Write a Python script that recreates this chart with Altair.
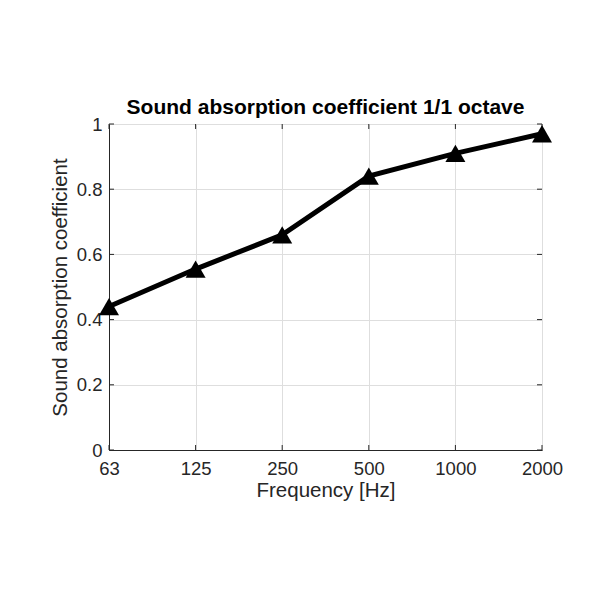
import altair as alt
import pandas as pd

# ---- data ----
freqs = ["63", "125", "250", "500", "1000", "2000"]
alpha = [0.44, 0.555, 0.66, 0.84, 0.91, 0.97]
y_ticks = [0, 0.2, 0.4, 0.6, 0.8, 1.0]

df = pd.DataFrame({"f": freqs, "a": alpha})
ydf = pd.DataFrame({"v": y_ticks})

FONT = "Liberation Sans"
TXT = "#262626"

xscale = alt.Scale(type="point", padding=0)
yscale = alt.Scale(domain=[0, 1], nice=False, zero=True)

x_enc = alt.X(
    "f:O", sort=freqs, scale=xscale,
    axis=alt.Axis(title="Frequency [Hz]", labelAngle=0, labelPadding=9,
                  labelAlign="center", labelBaseline="top",
                  labelFlush=False, labelOverlap=False,
                  titlePadding=3, grid=True, ticks=False),
)
y_enc = alt.Y(
    "a:Q", scale=yscale,
    axis=alt.Axis(title="Sound absorption coefficient", values=y_ticks,
                  format="~g", labelPadding=7, titlePadding=6,
                  labelFlush=False, labelOverlap=False,
                  grid=True, ticks=False),
)

line = alt.Chart(df).mark_line(color="black", strokeWidth=5).encode(x=x_enc, y=y_enc)
pts = alt.Chart(df).mark_point(
    shape="triangle-up", filled=True, size=400, color="black", opacity=1
).encode(x=alt.X("f:O", sort=freqs), y="a:Q")

# inward tick marks (MATLAB style)
xt_bottom = alt.Chart(df).mark_rule(color=TXT, strokeWidth=1, y2Offset=-5).encode(
    x=alt.X("f:O", sort=freqs), y=alt.datum(0), y2=alt.datum(0))
xt_top = alt.Chart(df).mark_rule(color=TXT, strokeWidth=1, y2Offset=5).encode(
    x=alt.X("f:O", sort=freqs), y=alt.datum(1), y2=alt.datum(1))
yt_left = alt.Chart(ydf).mark_rule(color=TXT, strokeWidth=1, x2Offset=5).encode(
    y="v:Q", x=alt.datum("63"), x2=alt.datum("63"))
yt_right = alt.Chart(ydf).mark_rule(color=TXT, strokeWidth=1, x2Offset=-5).encode(
    y="v:Q", x=alt.datum("2000"), x2=alt.datum("2000"))

chart = alt.layer(xt_bottom, xt_top, yt_left, yt_right, line, pts).properties(
    width=433, height=326,
    title=alt.TitleParams("Sound absorption coefficient 1/1 octave", fontSize=21,
                          fontWeight="bold", font=FONT, color="black", offset=6, dy=9),
    autosize=alt.AutoSizeParams(type="none"),
    padding={"left": 101, "top": 116, "right": 58, "bottom": 150},
    background="white",
).configure_view(stroke=TXT, strokeWidth=1).configure_axis(
    labelFont=FONT, labelFontSize=18.5, labelColor=TXT,
    titleFont=FONT, titleFontSize=20.5, titleFontWeight="normal", titleColor=TXT,
    gridColor="#dedede", gridWidth=1, domainColor=TXT, domainWidth=1,
)

chart.save("out.html", embed_options={"renderer": "svg", "actions": False})
